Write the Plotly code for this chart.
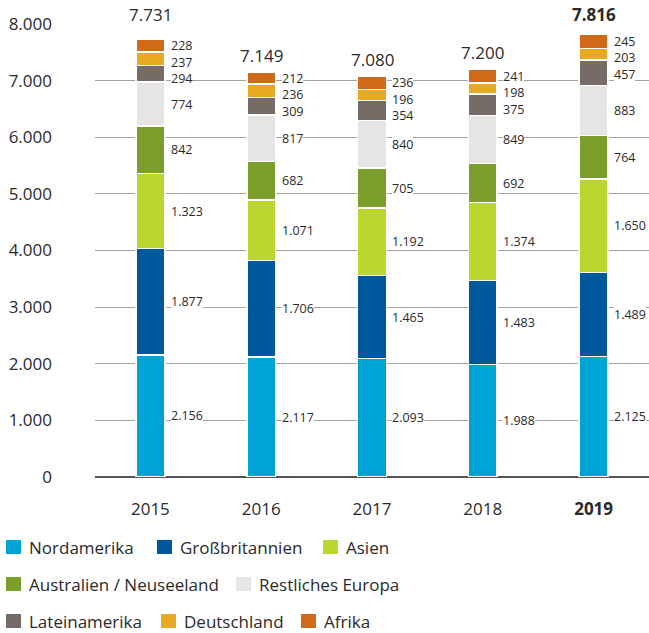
import plotly.graph_objects as go

# Years and regions
years = ["2015", "2016", "2017", "2018", "2019"]
year_ticktext = ["2015", "2016", "2017", "2018", "<b>2019</b>"]

regions = [
    "Nordamerika",
    "Großbritannien",
    "Asien",
    "Australien / Neuseeland",
    "Restliches Europa",
    "Lateinamerika",
    "Deutschland",
    "Afrika",
]

# Values per region (bottom to top of each stack)
nordamerika = [2156, 2117, 2093, 1988, 2125]
grossbritannien = [1877, 1706, 1465, 1483, 1489]
asien = [1323, 1071, 1192, 1374, 1650]
australien_neuseeland = [842, 682, 705, 692, 764]
restliches_europa = [774, 817, 840, 849, 883]
lateinamerika = [294, 309, 354, 375, 457]
deutschland = [237, 236, 196, 198, 203]
afrika = [228, 212, 236, 241, 245]

# Stated totals per year
totals = [7731, 7149, 7080, 7200, 7816]

series = [
    nordamerika,
    grossbritannien,
    asien,
    australien_neuseeland,
    restliches_europa,
    lateinamerika,
    deutschland,
    afrika,
]

colors = [
    "#00a3d6",
    "#00589c",
    "#b9d72f",
    "#7b9e2b",
    "#e6e5e3",
    "#766b67",
    "#e8aa22",
    "#d0691a",
]

FONT = "Open Sans"
TEXT = "#2a2a2a"

W, H = 649, 633
M_L, M_R, M_T, M_B = 95, 0, 24, 156
Y_MAX = 8000
plot_w = W - M_L - M_R
plot_h = H - M_T - M_B
px_per_unit = plot_h / Y_MAX
BAR_W = 0.26
LABEL_SIZE = 12.5
LABEL_GAP_PX = 16.5


def de(n):
    return f"{n:,}".replace(",", ".")


def paper_x(px):
    return (px - M_L) / plot_w


def paper_y(py):
    return (H - M_B - py) / plot_h


fig = go.Figure()
for name, vals, col in zip(regions, series, colors):
    fig.add_trace(go.Bar(
        x=list(range(len(years))), y=vals, name=name,
        marker=dict(color=col, line=dict(color="white", width=1.5)),
        width=BAR_W, hoverinfo="skip", showlegend=False,
    ))

annotations = []
shapes = []
cat_px = plot_w / len(years)
label_shift = BAR_W * cat_px / 2 + 6

# Segment value labels to the right of each stack; thin top segments are
# spread downward so that neighbouring labels keep a readable spacing.
for i in range(len(years)):
    base = 0
    centers = []
    for vals in series:
        v = vals[i]
        centers.append(base + v / 2)
        base += v
    min_gap = LABEL_GAP_PX / px_per_unit
    placed = [None] * len(series)
    prev = None
    for k in range(len(series) - 1, -1, -1):
        c = centers[k]
        if prev is not None and prev - c < min_gap:
            c = prev - min_gap
        placed[k] = c
        prev = c
    for k, vals in enumerate(series):
        annotations.append(dict(
            x=i, y=placed[k], xref="x", yref="y",
            text=de(vals[i]), showarrow=False, xanchor="left", yanchor="middle",
            xshift=label_shift, bgcolor="white", borderpad=0, borderwidth=0,
            font=dict(family=FONT, size=LABEL_SIZE, color=TEXT),
        ))

# Totals above each stack, lifted over the top gridline when they would touch it
for i, tot in enumerate(totals):
    txt = de(tot)
    if i == len(years) - 1:
        txt = f"<b>{txt}</b>"
    if (tot + 16.5 / px_per_unit) > Y_MAX - 10 / px_per_unit:
        y_pos, shift = Y_MAX, 9.5
    else:
        y_pos, shift = tot, 16.5
    annotations.append(dict(
        x=i, y=y_pos, yshift=shift, xref="x", yref="y", text=txt,
        showarrow=False, xanchor="center", yanchor="middle",
        font=dict(family=FONT, size=17, color=TEXT),
    ))

# Legend: three rows of colour key + region name
legend_rows = [
    (547, [(0, 6), (1, 157), (2, 323)]),
    (584, [(3, 6), (4, 236)]),
    (621, [(5, 6), (6, 161), (7, 301)]),
]
SW, SH = 15, 14
for row_y, items in legend_rows:
    for idx, left in items:
        shapes.append(dict(
            type="rect", xref="paper", yref="paper",
            x0=paper_x(left), x1=paper_x(left + SW),
            y0=paper_y(row_y + SH / 2), y1=paper_y(row_y - SH / 2),
            fillcolor=colors[idx], line=dict(width=0), layer="above",
        ))
        annotations.append(dict(
            x=paper_x(left + SW + 6), y=paper_y(row_y), xref="paper", yref="paper",
            text=regions[idx], showarrow=False, xanchor="left", yanchor="middle",
            font=dict(family=FONT, size=17, color=TEXT),
        ))

fig.update_layout(
    width=W, height=H, autosize=False,
    margin=dict(l=M_L, r=M_R, t=M_T, b=M_B, pad=0),
    barmode="stack",
    paper_bgcolor="white", plot_bgcolor="white",
    separators=",.",
    font=dict(family=FONT, size=17, color=TEXT),
    showlegend=False,
    annotations=annotations,
    shapes=shapes,
    xaxis=dict(
        tickmode="array", tickvals=list(range(len(years))), ticktext=year_ticktext,
        range=[-0.5, len(years) - 0.5], showgrid=False, showline=False,
        zeroline=False, ticks="", ticklabelstandoff=20,
        tickfont=dict(family=FONT, size=17, color=TEXT),
    ),
    yaxis=dict(
        range=[0, Y_MAX], tickmode="linear", tick0=0, dtick=1000,
        tickformat=",d", showgrid=True, gridcolor="#a7a196", gridwidth=1,
        zeroline=True, zerolinecolor="#555555", zerolinewidth=2,
        showline=False, ticks="", ticklabelstandoff=42,
        tickfont=dict(family=FONT, size=17, color=TEXT),
    ),
)

fig.write_html("out.html")
